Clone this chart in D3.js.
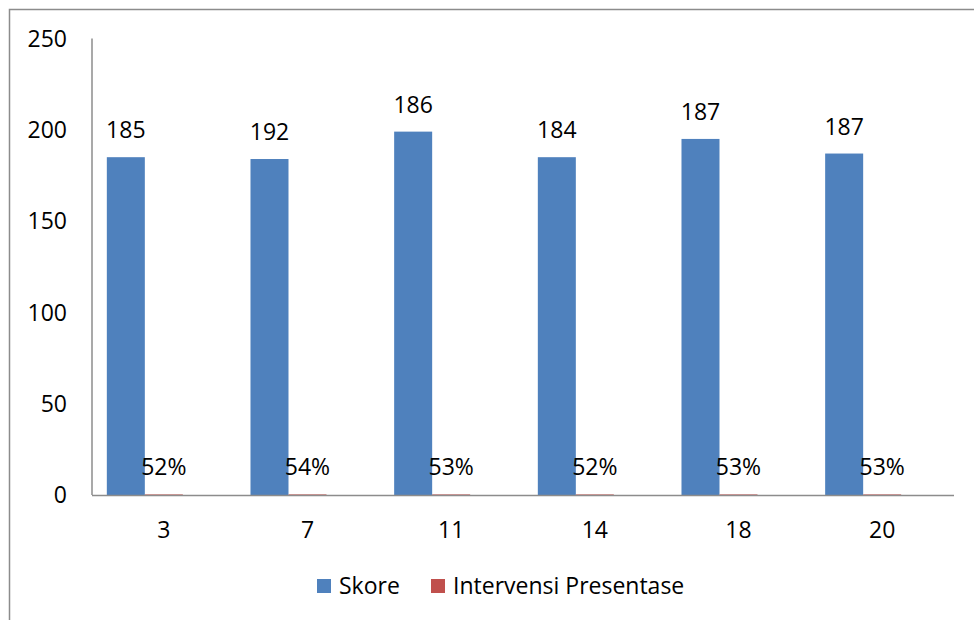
<!DOCTYPE html>
<html>
<head>
<meta charset="utf-8">
<script src="https://cdn.jsdelivr.net/npm/d3@7"></script>
<style>
  html, body { margin: 0; padding: 0; background: #fff; }
  svg { display: block; }
  text { font-family: "Open Sans", "Noto Sans", sans-serif; fill: #000; }
</style>
</head>
<body>
<svg id="chart" width="974" height="620"></svg>
<script>
// ---- data ----
const categories = ["3", "7", "11", "14", "18", "20"];
const skore = [185, 184, 199, 185, 195, 187];            // bar heights as drawn
const skoreLabels = ["185", "192", "186", "184", "187", "187"]; // data labels as printed
const intervensi = [0.52, 0.54, 0.53, 0.52, 0.53, 0.53];
const intervensiLabels = ["52%", "54%", "53%", "52%", "53%", "53%"];
const seriesNames = ["Skore", "Intervensi Presentase"];
const seriesColors = ["#4F81BD", "#C0504D"];
const yTicks = [0, 50, 100, 150, 200, 250];

// ---- layout ----
const svg = d3.select("#chart");
const W = 974, H = 620;
const plot = { left: 92, right: 954, top: 38.5, bottom: 495 };
const fs = 23;

// outer chart border
svg.append("rect")
  .attr("x", 9.5).attr("y", 9.5)
  .attr("width", W + 20).attr("height", H + 20)
  .attr("fill", "none").attr("stroke", "#8c8c8c").attr("stroke-width", 1.5);

const x0 = d3.scaleBand().domain(categories).range([plot.left, plot.right]).paddingInner(0).paddingOuter(0);
// Excel-style cluster: three slots (third slot empty)
const x1 = d3.scaleBand().domain([0, 1, 2]).range([0, x0.bandwidth()]).paddingInner(0).paddingOuter(0.39);
const y = d3.scaleLinear().domain([0, 250]).range([plot.bottom, plot.top]);

const data = categories.map((c, i) => ({ c, v: [skore[i], intervensi[i]], l: [skoreLabels[i], intervensiLabels[i]] }));

// y axis labels
svg.append("g").selectAll("text").data(yTicks).join("text")
  .attr("x", 67).attr("y", d => y(d))
  .attr("dy", "0.36em")
  .attr("text-anchor", "end")
  .style("font-size", fs + "px")
  .text(d => d);

// bars
const groups = svg.append("g").selectAll("g").data(data).join("g")
  .attr("transform", d => `translate(${x0(d.c)},0)`);

[0, 1].forEach(s => {
  groups.append("rect")
    .attr("x", x1(s))
    .attr("width", x1.bandwidth())
    .attr("y", d => y(d.v[s]))
    .attr("height", d => Math.max(1, y(0) - y(d.v[s])))
    .attr("fill", seriesColors[s])
    .attr("opacity", s === 1 ? 0.6 : 1);
  groups.append("text")
    .attr("x", x1(s) + x1.bandwidth() / 2)
    .attr("y", d => y(d.v[s]) - 19)
    .attr("text-anchor", "middle")
    .style("font-size", fs + "px")
    .text(d => d.l[s]);
});

// axes lines
svg.append("line")
  .attr("x1", plot.left).attr("x2", plot.left)
  .attr("y1", plot.top).attr("y2", plot.bottom)
  .attr("stroke", "#8c8c8c").attr("stroke-width", 1.5);
svg.append("line")
  .attr("x1", plot.left).attr("x2", plot.right)
  .attr("y1", plot.bottom + 0.5).attr("y2", plot.bottom + 0.5)
  .attr("stroke", "#8c8c8c").attr("stroke-width", 1.5);

// x labels
svg.append("g").selectAll("text").data(categories).join("text")
  .attr("x", d => x0(d) + x0.bandwidth() / 2)
  .attr("y", 538)
  .attr("text-anchor", "middle")
  .style("font-size", fs + "px")
  .text(d => d);

// legend
const legend = svg.append("g");
const legendItems = [{ x: 317, name: seriesNames[0], color: seriesColors[0] },
                     { x: 431, name: seriesNames[1], color: seriesColors[1] }];
legendItems.forEach(it => {
  legend.append("rect").attr("x", it.x).attr("y", 579).attr("width", 14).attr("height", 14).attr("fill", it.color);
  legend.append("text").attr("x", it.x + 22).attr("y", 594)
    .style("font-size", fs + "px").text(it.name);
});
</script>
</body>
</html>
